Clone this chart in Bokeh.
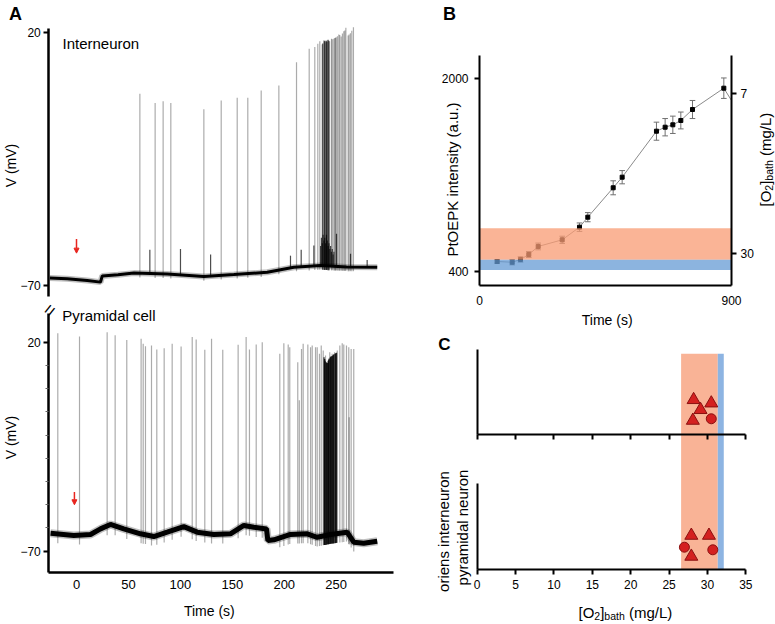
import numpy as np
from bokeh.plotting import figure
from bokeh.models import Range1d, LinearAxis, FixedTicker, Label, Arrow, NormalHead
from bokeh.layouts import row, column
from bokeh.embed import file_html
from bokeh.resources import INLINE

FONT = "Liberation Sans"
RED = "#E8251F"

# ---------------- Panel A : interneuron (top trace) ----------------
int_base_t = [-25.7, -9.0, 10.3, 23.1, 24.8, 40.0, 55.2, 87.3, 122.6, 151.5, 183.6, 209.2, 234.9, 260.0, 289.5]
int_base_v = [-67.3, -67.6, -68.2, -68.8, -66.6, -66.2, -65.6, -65.9, -66.8, -66.1, -65.3, -63.5, -62.9, -63.4, -63.5]
int_spike_t = [61.0, 75.7, 83.4, 90.8, 122.6, 139.3, 154.7, 164.9, 177.8, 194.8, 211.8, 224.0, 229.4,
               232.3, 234.2, 236.5, 238.1, 240.0, 241.6, 243.6, 245.5, 247.7, 250.0, 252.5, 254.8,
               257.3, 259.3, 261.5, 263.7, 266.6, 246.2, 248.6, 249.3, 251.2, 253.4, 256.0, 258.3, 262.4, 265.0]
int_spike_v = [-1.9, -5.2, -4.5, -5.2, -7.4, -4.3, -3.3, -3.3, -0.7, 1.1, 9.3, 14.1, 14.7,
               15.9, 16.8, 15.6, 17.1, 16.4, 17.1, 16.8, 17.7, 17.7, 18.2, 19.2, 18.5,
               20.3, 21.6, 18.8, 19.6, 21.8, 17.5, 17.9, 18.0, 18.6, 19.0, 19.5, 20.6, 19.2, 20.5]
int_burst_t = [237.0, 238.6, 239.2, 240.5, 241.0, 242.2, 242.8]
int_burst_v = [16.0, 16.8, 17.0, 17.0, 16.6, 17.3, 17.0]
int_event_t = [70.6, 100.1, 129.1, 206.0, 216.3, 228.5, 235.0, 235.8, 236.6, 237.4, 238.2, 239.0,
               239.8, 240.6, 241.4, 242.2, 243.0, 243.8, 244.6, 245.4, 246.2, 247.0, 247.8,
               250.3, 263.8, 279.8]
int_event_v = [-57.3, -57.0, -59.0, -59.4, -57.3, -55.8, -56.0, -53.0, -55.0, -52.0, -54.0, -53.0,
               -55.0, -52.0, -54.0, -56.0, -55.0, -57.0, -56.0, -58.0, -57.0, -59.0, -58.0,
               -51.6, -58.7, -60.9]

# ---------------- Panel A : pyramidal cell (bottom trace) ----------------
pyr_base_t = [-25.0, -2.6, 13.5, 23.1, 32.7, 45.5, 61.6, 74.4, 87.3, 103.3, 116.2, 132.2, 148.2,
              161.1, 170.7, 182.9, 184.2, 190.0, 206.0, 222.1, 231.7, 244.5, 260.5, 266.9, 276.5, 289.5]
pyr_base_v = [-62.3, -63.2, -62.8, -60.4, -58.5, -60.4, -62.5, -63.7, -61.8, -59.4, -61.8, -62.8, -62.5,
              -58.9, -59.7, -60.4, -65.4, -65.1, -62.8, -62.5, -64.0, -62.8, -61.8, -66.1, -66.6, -65.7]
pyr_spike_t = [-18.0, 2.9, 29.5, 37.2, 48.4, 62.2, 64.2, 66.4, 72.2, 77.3, 84.4, 92.1, 100.7, 111.4,
               115.2, 123.5, 130.0, 140.8, 155.6, 163.3, 166.5, 173.0, 178.8, 195.7, 199.6, 203.8,
               205.3, 213.0, 214.5, 216.6, 218.2, 222.7, 225.3, 226.9, 230.1, 231.7, 233.9, 235.6,
               237.5, 239.7, 241.3, 243.8, 246.1, 248.4, 251.0, 253.5, 255.8, 257.3, 259.9, 262.1,
               262.5, 264.4, 266.9]
pyr_spike_v = [23.9, 22.5, 24.3, 23.0, 21.0, 21.5, 19.3, 18.3, 18.6, 16.9, 17.4, 19.3, 18.1, 22.2,
               21.2, 16.8, 21.5, 16.7, 18.9, 22.2, 16.9, 19.0, 20.0, 15.0, 19.6, 19.0,
               17.8, 11.4, -5.0, 17.1, 19.3, 19.0, 17.8, 18.6, 17.8, 17.8, 15.0, 18.6,
               16.4, 14.3, 10.7, 15.7, 15.0, 15.7, 16.4, 18.6, 19.6, 19.0, 18.6, 17.8,
               -12.3, 17.1, 17.1]
pyr_burst_t = [238.3, 238.9, 239.3, 240.2, 240.8, 241.8, 242.3, 242.8, 243.3, 244.4, 244.9, 245.5,
               246.6, 247.1, 247.7, 248.9, 249.5, 250.3]
pyr_burst_v = [13.5, 12.8, 12.0, 11.5, 11.0, 11.2, 12.0, 12.5, 13.0, 13.5, 13.8, 14.0,
               14.2, 14.5, 14.8, 15.0, 15.2, 15.5]
a_time_ticks = [0, 50, 100, 150, 200, 250]
a_v_ticks = [-70, 20]
a_v_minor = [-60, -50, -40, -30, -20, -10, 0, 10]
stim_time = 0

# ---------------- Panel B ----------------
b_t = [63, 116.7, 146.4, 176.1, 209.6, 295.3, 357.1, 386.8, 477.4, 509.5, 632, 663, 690.5, 719, 760.7, 872.6]
b_v = [483, 477, 500, 541, 608, 663, 768, 851, 1095, 1183, 1565, 1598, 1618, 1654, 1745, 1922]
b_err = [15, 22, 22, 25, 28, 30, 35, 38, 58, 55, 75, 72, 72, 70, 75, 85]
b_end_t, b_end_v = 900, 1820
b_time_ticks = [0, 900]
b_int_ticks = [400, 2000]
b_o2_ticks = [7, 30]
b_band_hypoxic = [26.4, 30.95]
b_band_normal = [30.95, 32.4]

# ---------------- Panel C ----------------
c_o2_ticks = [0, 5, 10, 15, 20, 25, 30, 35]
c_band_hypoxic = [26.57, 31.35]
c_band_normal = [31.35, 32.13]
c_int_tri_x = [28.2, 30.5, 29.1, 28.1]
c_int_tri_y = [0.401, 0.362, 0.286, 0.162]
c_int_circ_x = [30.5]
c_int_circ_y = [0.182]
c_pyr_tri_x = [27.9, 30.2, 27.9]
c_pyr_tri_y = [0.396, 0.396, 0.154]
c_pyr_circ_x = [27.0, 30.7]
c_pyr_circ_y = [0.261, 0.231]

# ---------------- layout (page pixels) ----------------
C_UPPER_BASE = 1.562
C_TOP = 2.544
C_BAND_TOP = 2.494
SALMON = "#F9B396"
BLUE = "#8DB4E2"


def lin(v0, p0, v1, p1, p):
    return v0 + (p - p0) * (v1 - v0) / (p1 - p0)


def make_fig(box, xa, ya, **kw):
    left, top, w, h = box
    xr = Range1d(lin(*xa, left), lin(*xa, left + w))
    yr = Range1d(lin(*ya, top + h), lin(*ya, top))
    p = figure(width=w, height=h, x_range=xr, y_range=yr, output_backend="svg",
               toolbar_location=None, min_border_left=0, min_border_right=0,
               min_border_top=0, min_border_bottom=0, **kw)
    p.grid.visible = False
    p.outline_line_color = None
    p.background_fill_color = "white"
    p.border_fill_color = "white"
    p._box = box
    return p


def style_axis(ax, width=2.5, font=12):
    ax.axis_line_width = width
    ax.axis_line_color = "black"
    ax.major_tick_line_width = 2
    ax.major_tick_line_color = "black"
    ax.major_tick_in = 0
    ax.minor_tick_line_color = None
    ax.major_label_text_font = FONT
    ax.major_label_text_font_size = f"{font}px"
    ax.major_label_text_color = "black"


def lab(p, X, Y, text, size=15, angle=0.0, align="left", baseline="middle", bold=False):
    left, top, w, h = p._box
    p.add_layout(Label(x=X - left, y=top + h - Y, x_units="screen", y_units="screen", text=text,
                       angle=angle, text_align=align, text_baseline=baseline, text_font=FONT,
                       text_font_size=f"{size}px", text_color="black",
                       text_font_style="bold" if bold else "normal"))


def dlab(p, x, y, text, size=15):
    p.add_layout(Label(x=x, y=y, text=text, text_align="left", text_baseline="middle",
                       text_font=FONT, text_font_size=f"{size}px", text_color="black"))


W = {'[': .278, ']': .278, 'O': .778, '2': .556, 'b': .556, 'a': .556, 't': .278, 'h': .556,
     ' ': .278, '(': .333, ')': .333, 'm': .833, 'g': .556, '/': .278, 'L': .556}


def text_w(s, size):
    return sum(W.get(c, 0.556) for c in s) * size


def comp_label(p, X, Y, vertical=False, main=15, sub=10.5, shift=3.5):
    parts = [("[O", main, 0, 0), ("2", sub, shift, 0), ("]", main, 0, 0),
             ("bath", sub, shift, 0), ("(mg/L)", main, 0, W[' '] * main)]
    adv = 0.0
    for txt, size, sh, gap in parts:
        adv += gap
        if vertical:
            lab(p, X + sh, Y - adv, txt, size=size, angle=np.pi / 2, baseline="alphabetic")
        else:
            lab(p, X + adv, Y + sh, txt, size=size, baseline="alphabetic")
        adv += text_w(txt, size)


def draw_trace(p, base_t, base_v, spike_t, spike_v, burst_t, burst_v, foot, halo, core, burst_alpha):
    bt = np.array(base_t)
    bv = np.array(base_v)
    st = np.array(spike_t)
    s0 = np.interp(st, bt, bv) - foot
    p.segment(x0=st, y0=s0, x1=st, y1=spike_v, line_color="black", line_alpha=0.33, line_width=1.2)
    ut = np.array(burst_t)
    u0 = np.interp(ut, bt, bv) - foot
    p.segment(x0=ut, y0=u0, x1=ut, y1=burst_v, line_color="black", line_alpha=burst_alpha, line_width=1.3)
    p.line(base_t, base_v, line_color="black", line_alpha=0.25, line_width=halo)
    p.line(base_t, base_v, line_color="black", line_width=core)


def red_arrow(p, t, y0, y1):
    p.add_layout(Arrow(end=NormalHead(size=5, fill_color=RED, line_color=RED, line_width=1),
                       x_start=t, y_start=y0, x_end=t, y_end=y1, line_color=RED, line_width=1.5))


A_X = (0, 76.0, 250, 335.7)
A1_Y = (20, 31.7, -70, 285.0)
A2_Y = (20, 341.7, -70, 550.7)
B_X = (0, 479.0, 900, 731.0)
B_Y = (2000, 78.3, 400, 271.0)
B_O2 = (7, 92.7, 30, 252.7)
C_X = (0, 476.7, 35, 745.3)
C_Y = (0, 569.3, 1, 482.7)

# ---------------- Figure A top ----------------
fa1 = make_fig((0, 0, 428, 300), A_X, A1_Y, x_axis_location=None)
ya = fa1.yaxis[0]
style_axis(ya)
ya.ticker = FixedTicker(ticks=a_v_ticks)
ya.major_tick_out = 5
ya.major_label_standoff = 3
ya.fixed_location = lin(*A_X, 48.3)
ya.bounds = (lin(*A1_Y, 296.0), lin(*A1_Y, 28.3))
draw_trace(fa1, int_base_t, int_base_v, int_spike_t, int_spike_v, int_burst_t, int_burst_v, 1.5, 6, 3, 0.6)
et = np.array(int_event_t)
fa1.segment(x0=et, y0=np.interp(et, int_base_t, int_base_v), x1=et, y1=int_event_v,
            line_color="black", line_alpha=0.7, line_width=1.2)
red_arrow(fa1, stim_time, -53.5, -58.5)
dlab(fa1, -13.5, 15.9, "Interneuron")
lab(fa1, 15, 13.5, "A", size=18, align="center", bold=True)
lab(fa1, 10, 165, "V (mV)", size=14, angle=np.pi / 2, align="center")

# ---------------- Figure A bottom ----------------
fa2 = make_fig((0, 300, 428, 324), A_X, A2_Y)
ya2 = fa2.yaxis[0]
style_axis(ya2)
ya2.ticker = FixedTicker(ticks=a_v_ticks, minor_ticks=a_v_minor)
ya2.major_tick_out = 5
ya2.major_label_standoff = 3
ya2.minor_tick_line_color = "#666666"
ya2.minor_tick_out = 3
ya2.minor_tick_in = 0
ya2.fixed_location = lin(*A_X, 48.3)
ya2.bounds = (lin(*A2_Y, 572.0), lin(*A2_Y, 313.0))
xa2 = fa2.xaxis[0]
style_axis(xa2, font=13)
xa2.ticker = FixedTicker(ticks=a_time_ticks)
xa2.major_tick_out = 0
xa2.major_label_standoff = 7
xa2.fixed_location = lin(*A2_Y, 572.0)
xa2.bounds = (lin(*A_X, 48.3), lin(*A_X, 393.3))
draw_trace(fa2, pyr_base_t, pyr_base_v, pyr_spike_t, pyr_spike_v, pyr_burst_t, pyr_burst_v, 4, 8, 5, 0.8)
red_arrow(fa2, stim_time - 2, -44.5, -50.0)
dlab(fa2, -13.8, 31.5, "Pyramidal cell")
lab(fa2, 10, 437, "V (mV)", size=14, angle=np.pi / 2, align="center")
lab(fa2, 208.8, 610.5, "Time (s)", size=14, align="center")
lab(fa2, 49, 309.5, "=", size=19, angle=0.9, align="center")

# ---------------- Figure B ----------------
fb = make_fig((428, 0, 347, 328), B_X, B_Y)
fb.extra_y_ranges = {"o2": Range1d(lin(*B_O2, 328), lin(*B_O2, 0))}
lb = fb.yaxis[0]
style_axis(lb, width=2)
lb.ticker = FixedTicker(ticks=b_int_ticks)
lb.major_tick_out = 5
lb.major_label_standoff = 6
lb.fixed_location = 0
lb.bounds = (lin(*B_Y, 285.0), lin(*B_Y, 55.0))
xb = fb.xaxis[0]
style_axis(xb, width=2)
xb.ticker = FixedTicker(ticks=b_time_ticks)
xb.major_tick_out = 0
xb.major_label_standoff = 10
xb.fixed_location = lin(*B_Y, 285.0)
xb.bounds = (0, 900)
rax = LinearAxis(y_range_name="o2", ticker=FixedTicker(ticks=b_o2_ticks))
style_axis(rax, width=2)
rax.major_tick_out = 5
rax.major_label_standoff = 4
rax.fixed_location = 900
rax.bounds = (lin(*B_O2, 55.0), lin(*B_O2, 285.0))
fb.add_layout(rax, "right")

bt_arr = np.array(b_t)
bv_arr = np.array(b_v)
be_arr = np.array(b_err)
cap = 10.0
fb.line(b_t + [b_end_t], b_v + [b_end_v], line_color="#8a8a8a", line_width=1)
fb.segment(x0=bt_arr, y0=bv_arr - be_arr, x1=bt_arr, y1=bv_arr + be_arr, line_color="#707070", line_width=1)
fb.segment(x0=bt_arr - cap, y0=bv_arr - be_arr, x1=bt_arr + cap, y1=bv_arr - be_arr, line_color="#707070", line_width=1)
fb.segment(x0=bt_arr - cap, y0=bv_arr + be_arr, x1=bt_arr + cap, y1=bv_arr + be_arr, line_color="#707070", line_width=1)
fb.scatter(b_t, b_v, marker="square", size=4, color="black")
fb.quad(left=[0], right=[900], bottom=[b_band_hypoxic[0]], top=[b_band_hypoxic[1]],
        y_range_name="o2", fill_color="#F89B73", fill_alpha=0.75, line_color=None)
fb.quad(left=[0], right=[900], bottom=[b_band_normal[0]], top=[b_band_normal[1]],
        y_range_name="o2", fill_color="#669BD4", fill_alpha=0.75, line_color=None)
lab(fb, 449, 13.5, "B", size=18, align="center", bold=True)
lab(fb, 452, 179, "PtOEPK intensity (a.u.)", size=15, angle=np.pi / 2, align="center")
lab(fb, 606.7, 319.5, "Time (s)", size=14, align="center")
comp_label(fb, 765, 206, vertical=True)

# ---------------- Figure C ----------------
fc = make_fig((428, 328, 347, 296), C_X, C_Y)
xc = fc.xaxis[0]
style_axis(xc, width=2, font=12)
xc.ticker = FixedTicker(ticks=c_o2_ticks)
xc.major_tick_out = 5
xc.major_label_standoff = 5
xc.fixed_location = 0
xc.bounds = (0, 35)
yc = fc.yaxis[0]
style_axis(yc, width=2)
yc.ticker = FixedTicker(ticks=[])
yc.major_label_text_color = None
yc.fixed_location = 0
yc.bounds = (0, 1.0)
xc_up = LinearAxis(ticker=FixedTicker(ticks=c_o2_ticks), fixed_location=C_UPPER_BASE, bounds=(0, 35))
style_axis(xc_up, width=2)
xc_up.major_tick_out = 5
xc_up.major_label_text_color = None
xc_up.major_label_text_alpha = 0
fc.add_layout(xc_up, "below")
yc_up = LinearAxis(ticker=FixedTicker(ticks=[]), fixed_location=0, bounds=(C_UPPER_BASE, C_TOP))
style_axis(yc_up, width=2)
yc_up.major_label_text_color = None
fc.add_layout(yc_up, "left")

fc.quad(left=[c_band_hypoxic[0]], right=[c_band_hypoxic[1]], bottom=[0], top=[C_BAND_TOP],
        fill_color=SALMON, line_color=None, level="underlay")
fc.quad(left=[c_band_normal[0]], right=[c_band_normal[1]], bottom=[0], top=[C_BAND_TOP],
        fill_color=BLUE, line_color=None, level="underlay")

mk = dict(fill_color="#D42020", line_color="#8A1010", line_width=1)
fc.scatter(c_int_tri_x, list(np.array(c_int_tri_y) + C_UPPER_BASE), marker="triangle", size=13, **mk)
fc.scatter(c_int_circ_x, list(np.array(c_int_circ_y) + C_UPPER_BASE), marker="circle", size=10, **mk)
fc.scatter(c_pyr_tri_x, c_pyr_tri_y, marker="triangle", size=13, **mk)
fc.scatter(c_pyr_circ_x, c_pyr_circ_y, marker="circle", size=10, **mk)

lab(fc, 444, 344, "C", size=17, align="center", baseline="alphabetic", bold=True)
lab(fc, 443.3, 531, "oriens interneuron", size=15, angle=np.pi / 2, align="center")
lab(fc, 461.7, 527, "pyramidal neuron", size=15, angle=np.pi / 2, align="center")
comp_label(fc, 578, 612, vertical=False)

layout = row(column(fa1, fa2), column(fb, fc))
open("out.html", "w").write(file_html(layout, INLINE))
